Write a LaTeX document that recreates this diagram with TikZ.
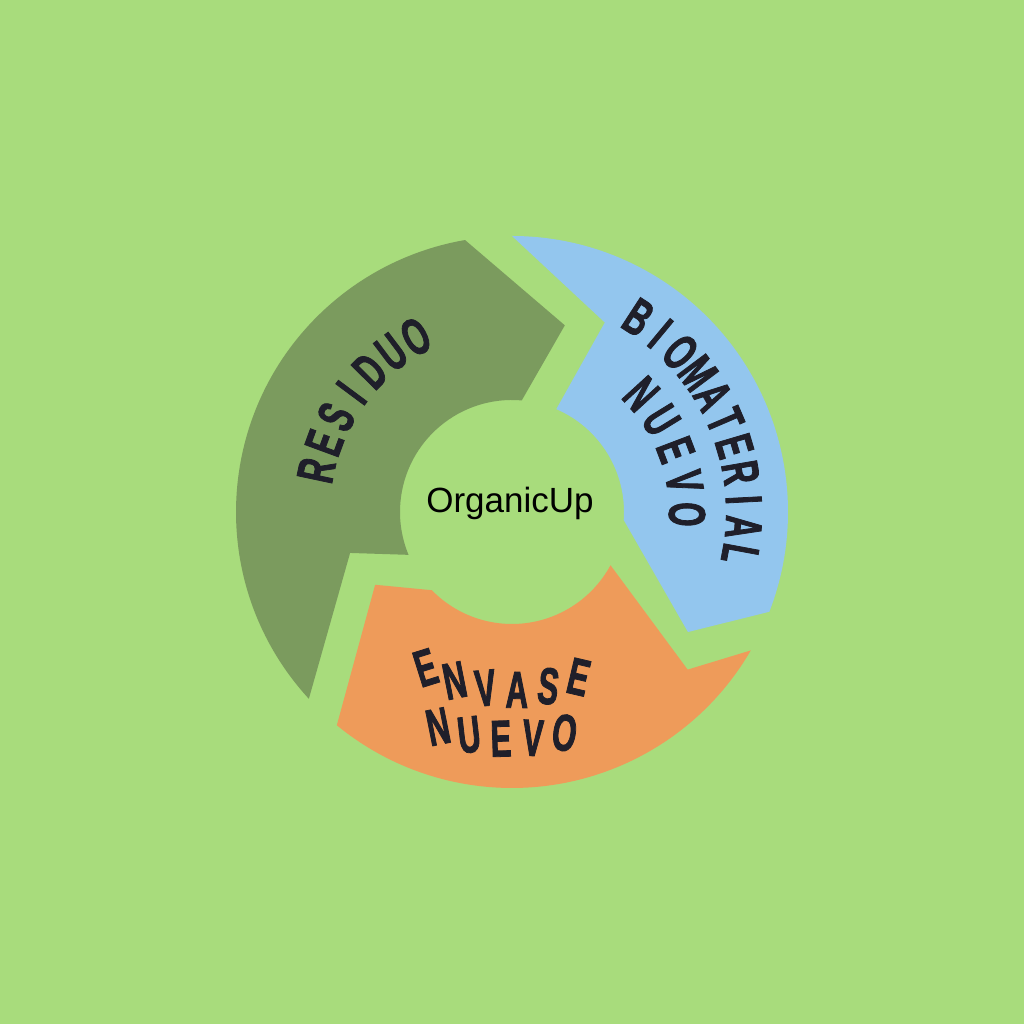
\documentclass[tikz,border=0pt]{standalone}
\usepackage{fontspec}
\setmainfont{Liberation Sans}
\newfontfamily\condf[FakeStretch=0.6,FakeBold=1.5]{Liberation Sans Bold}
\begin{document}
\begin{tikzpicture}[x=1pt,y=1pt,
  lt/.style={font=\condf\fontsize{52}{52}\selectfont, text=txt, inner sep=0pt}]
\definecolor{bg}{HTML}{A8DC7C}
\definecolor{gr}{HTML}{7B9B5E}
\definecolor{bl}{HTML}{93C6EE}
\definecolor{or}{HTML}{EE9B5A}
\definecolor{txt}{HTML}{1F1F2A}
\fill[bg] (0,0) rectangle (1024,1024);
\useasboundingbox (0,0) rectangle (1024,1024);
\begin{scope}[shift={(512,512)}]
% green
\fill[gr] (222.6:276) arc[start angle=222.6,end angle=99.8,radius=276]
  -- (74.2:194) -- (85:112) arc[start angle=85,end angle=202.5,radius=112]
  -- (194.2:167) -- cycle;
% blue
\fill[bl] (90:276) arc[start angle=90,end angle=-21.2,radius=276]
  -- (-34.3:213) -- (-4.1:112) arc[start angle=-4.1,end angle=66.7,radius=112]
  -- (63.9:211) -- cycle;
% orange
\fill[or] (-30.1:276) arc[start angle=-30.1,end angle=-129.4,radius=276]
  -- (208:155) -- (224.3:112) arc[start angle=224.3,end angle=331.6,radius=112]
  -- (-41.9:236) -- cycle;
% RESIDUO
\foreach \c [count=\i from 0] in {R,E,S,I,D,U,O}{
  \pgfmathsetmacro\a{168-\i*8.2}
  \node[lt,rotate=\a-90] (res\i) at (\a:200) {\c};}
% BIOMATERIAL
\foreach \c [count=\i from 0] in {B,I,O,M,A,T,E,R,I,A,L}{
  \pgfmathsetmacro\a{57-\i*6.75}
  \node[lt,rotate=\a-90] (bio\i) at (\a:232) {\c};}
% NUEVO blue
\foreach \c [count=\i from 0] in {N,U,E,V,O}{
  \pgfmathsetmacro\a{42.4-\i*10.8}
  \node[lt,rotate=\a-90] (nb\i) at (\a:175) {\c};}
% ENVASE
\foreach \c [count=\i from 0] in {E,N,V,A,S,E}{
  \pgfmathsetmacro\a{241+\i*10.2}
  \node[lt,rotate=0.6*(270-\a)] (env\i) at (\a:178) {\c};}
% NUEVO orange
\foreach \c [count=\i from 0] in {N,U,E,V,O}{
  \pgfmathsetmacro\a{251+\i*8.1}
  \node[lt,rotate=0.6*(270-\a)] (no\i) at (\a:227) {\c};}
\node[font=\fontsize{35}{35}\selectfont, inner sep=0pt] (title) at (-2,9) {OrganicUp};
\end{scope}
\end{tikzpicture}
\end{document}
